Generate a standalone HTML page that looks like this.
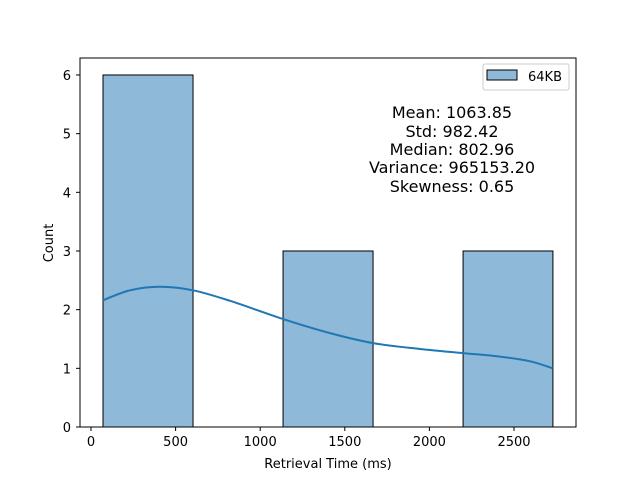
<!DOCTYPE html>
<html><head><meta charset="utf-8"><style>
html,body{margin:0;padding:0;background:#fff;}
svg{display:block;font-family:"DejaVu Sans","Liberation Sans",sans-serif;}
</style></head><body>
<svg id="chart" width="640" height="480" viewBox="0 0 640 480">
<rect width="640" height="480" fill="#fff"/>
<g id="bars"></g>
<g id="kde"></g>
<rect x="80" y="58" width="496" height="369" fill="none" stroke="#000" stroke-width="1"/>
<g id="xticks"></g>
<g id="yticks"></g>
<text x="328" y="468" font-size="13" text-anchor="middle">Retrieval Time (ms)</text>
<text transform="translate(53,243) rotate(-90)" font-size="13" text-anchor="middle">Count</text>
<g font-size="16" text-anchor="middle">
<text x="452" y="118">Mean: 1063.85</text>
<text x="452" y="137">Std: 982.42</text>
<text x="452" y="155">Median: 802.96</text>
<text x="452" y="173">Variance: 965153.20</text>
<text x="452" y="192">Skewness: 0.65</text>
</g>
<g>
<rect x="483" y="64" width="86" height="26" rx="2" fill="#fff" stroke="#ccc"/>
<rect x="487" y="70" width="30" height="10" fill="#8fb9d8" stroke="#000"/>
<text x="528" y="81" font-size="13">64KB</text>
</g>
</svg>
<script>
const binEdges=[71,603,1135,1667,2199,2730];
const counts=[6,0,3,0,3];
const kdeX=[71,230,408,603,822,1135,1413,1667,1944,2199,2417,2595,2730];
const kdeY=[2.16,2.33,2.39,2.33,2.15,1.84,1.6,1.43,1.33,1.26,1.2,1.12,1.0];
const xTicks=[0,500,1000,1500,2000,2500];
const yTicks=[0,1,2,3,4,5,6];
const NS="http://www.w3.org/2000/svg";
const sx=v=>91+v*0.1692;
const sy=v=>427-v*58.67;
function mk(tag,attrs,parent){const e=document.createElementNS(NS,tag);for(const k in attrs)e.setAttribute(k,attrs[k]);parent.appendChild(e);return e;}
const bars=document.getElementById('bars');
counts.forEach((c,i)=>{if(c<=0)return;
const r=mk('rect',{x:sx(binEdges[i]),y:sy(c),width:sx(binEdges[i+1])-sx(binEdges[i]),height:sy(0)-sy(c),fill:'#8fb9d8',stroke:'#000','stroke-width':1},bars);

});
const pts=kdeX.map((x,i)=>[sx(x),sy(kdeY[i])]);
let d='M'+pts[0][0]+','+pts[0][1];
for(let i=0;i<pts.length-1;i++){const p0=pts[Math.max(0,i-1)],p1=pts[i],p2=pts[i+1],p3=pts[Math.min(pts.length-1,i+2)];
d+=' C'+(p1[0]+(p2[0]-p0[0])/6)+','+(p1[1]+(p2[1]-p0[1])/6)+' '+(p2[0]-(p3[0]-p1[0])/6)+','+(p2[1]-(p3[1]-p1[1])/6)+' '+p2[0]+','+p2[1];}
const kp=mk('path',{d:d,fill:'none',stroke:'#1f77b4','stroke-width':2},document.getElementById('kde'));


const xg=document.getElementById('xticks');
xTicks.forEach(t=>{const x=sx(t);
const l=mk('line',{x1:x,x2:x,y1:427,y2:431,stroke:'#000'},xg);


const tx=mk('text',{x:x,y:446,'font-size':13,'text-anchor':'middle'},xg);tx.textContent=t;

});
const yg=document.getElementById('yticks');
yTicks.forEach(t=>{const y=sy(t);
const l=mk('line',{x1:76,x2:80,y1:y,y2:y,stroke:'#000'},yg);


const tx=mk('text',{x:71,y:y+5,'font-size':13,'text-anchor':'end'},yg);tx.textContent=t;

});
</script>
</body></html>
